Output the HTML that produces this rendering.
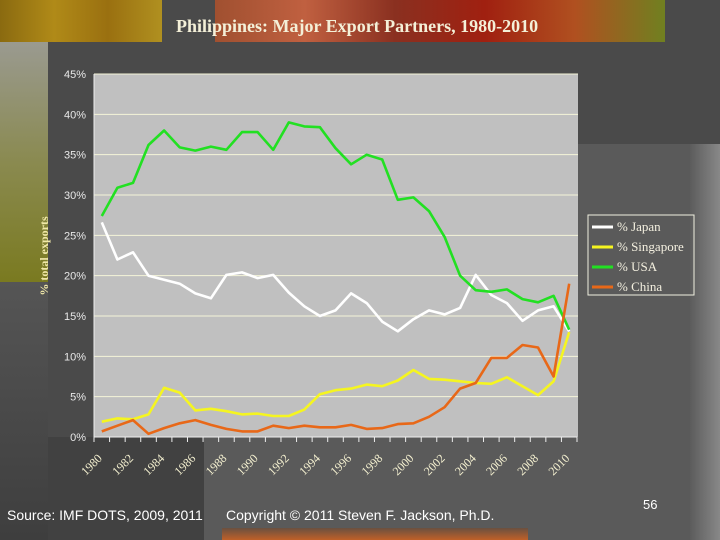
<!DOCTYPE html>
<html><head><meta charset="utf-8"><style>
html,body{margin:0;padding:0}
body{width:720px;height:540px;overflow:hidden;position:relative;background:#5a5a5a;font-family:"Liberation Sans",sans-serif}
.abs{position:absolute}
</style></head><body>
<div class="abs" style="left:0;top:0;width:720px;height:42px;background:#4a4a4a"></div>
<div class="abs" style="left:0;top:0;width:162px;height:42px;background:linear-gradient(90deg,#8a6a10,#b08a18,#9a7010,#b09020)"></div>
<div class="abs" style="left:215px;top:0;width:450px;height:44px;background:linear-gradient(90deg,#a05030,#c06040,#8a3020,#a02010,#b05020,#708020)"></div>
<div class="abs" style="left:0;top:42px;width:48px;height:240px;background:linear-gradient(180deg,#9a9a90,#8a8a50,#7a7a20)"></div>
<div class="abs" style="left:0;top:282px;width:48px;height:258px;background:linear-gradient(180deg,#555,#3e3e3e)"></div>
<div class="abs" style="left:48px;top:42px;width:672px;height:102px;background:#4a4a4a"></div>
<div class="abs" style="left:48px;top:144px;width:530px;height:293px;background:#4a4a4a"></div>
<div class="abs" style="left:48px;top:437px;width:156px;height:103px;background:#414141"></div>
<div class="abs" style="left:690px;top:144px;width:30px;height:396px;background:linear-gradient(90deg,#5c5c5c,#888)"></div>
<div class="abs" style="left:222px;top:528px;width:306px;height:12px;background:linear-gradient(180deg,#6a5040,#c06028)"></div>
<div class="abs" style="left:176px;top:16px;font-family:'Liberation Serif',serif;font-size:18px;font-weight:bold;color:#f4f0d8;white-space:nowrap">Philippines: Major Export Partners, 1980-2010</div>
<div class="abs" style="left:7px;top:507px;font-size:14px;color:#fff;white-space:nowrap">Source: IMF DOTS, 2009, 2011</div>
<div class="abs" style="left:226px;top:507px;font-size:14px;color:#fff;white-space:nowrap">Copyright © 2011 Steven F. Jackson, Ph.D.</div>
<div class="abs" style="left:643px;top:497px;font-size:13px;color:#fff">56</div>

<svg class="abs" style="left:0;top:0" width="720" height="540">
<rect x="94" y="74" width="484" height="363" fill="#c0c0c0"/>
<g id="grid"></g><g id="yt"></g><g id="xt"></g><g id="series"></g>
<text transform="translate(48,256) rotate(-90)" text-anchor="middle" font-family="Liberation Serif,serif" font-weight="bold" font-size="12" fill="#f0e8a8">% total exports</text>
<g>
<rect x="588" y="215" width="106" height="80" fill="none" stroke="#f0f0e0" stroke-width="1"/>
</g><g id="leg"></g>
</svg>
<script>
const years=[];for(let y=1980;y<=2010;y++)years.push(y);
const japan=[26.6,22.0,22.9,20.0,19.5,19.0,17.8,17.2,20.1,20.4,19.7,20.1,17.9,16.2,15.0,15.7,17.8,16.6,14.3,13.1,14.6,15.7,15.2,16.0,20.1,17.6,16.6,14.4,15.7,16.2,13.1];
const singapore=[1.9,2.3,2.2,2.8,6.1,5.5,3.3,3.5,3.2,2.8,2.9,2.6,2.6,3.4,5.3,5.8,6.0,6.5,6.3,7.0,8.3,7.2,7.1,6.9,6.7,6.6,7.4,6.3,5.2,6.9,13.0];
const usa=[27.4,30.9,31.5,36.2,38.0,35.9,35.5,36.0,35.6,37.8,37.8,35.6,39.0,38.5,38.4,35.8,33.8,35.0,34.4,29.4,29.7,28.0,24.8,20.0,18.2,18.0,18.3,17.1,16.7,17.5,13.3];
const china=[0.7,1.4,2.1,0.4,1.1,1.7,2.1,1.5,1.0,0.7,0.7,1.4,1.1,1.4,1.2,1.2,1.5,1.0,1.1,1.6,1.7,2.5,3.7,6.0,6.7,9.8,9.8,11.4,11.1,7.5,19.0];
const yTicks=[0,5,10,15,20,25,30,35,40,45];
const xLabelYears=[1980,1982,1984,1986,1988,1990,1992,1994,1996,1998,2000,2002,2004,2006,2008,2010];
const xLabels=["1980","1982","1984","1986","1988","1990","1992","1994","1996","1998","2000","2002","2004","2006","2008","2010"];
const seriesNames=["% Japan","% Singapore","% USA","% China"];
const seriesColors=["#ffffff","#f5f520","#22e022","#e86818"];
const NS="http://www.w3.org/2000/svg";
const X0=94,X1=577,Y0=437,Ytop=74,YMAX=45;
const bw=(X1-X0)/years.length;
const xs=i=>X0+bw*(i+0.5);
const ys=v=>Y0-(v/YMAX)*(Y0-Ytop);
function mk(t,a,p){const e=document.createElementNS(NS,t);for(const k in a)e.setAttribute(k,a[k]);p.appendChild(e);return e;}
const grid=document.getElementById('grid'),yt=document.getElementById('yt'),xt=document.getElementById('xt');
yTicks.forEach(v=>{
  if(v>0){const l=mk('line',{x1:X0,x2:578,y1:ys(v),y2:ys(v),stroke:'#f4f4d8','stroke-width':1},grid);
  
  }
  const t=mk('text',{x:86,y:ys(v)+4,'text-anchor':'end','font-size':11,fill:'#e8e8e8','font-family':'Liberation Sans,sans-serif'},yt);
  t.textContent=v+'%';
  
  
});
mk('line',{x1:X0,x2:X0,y1:Ytop,y2:Y0,stroke:'#eee','stroke-width':1},yt);
mk('line',{x1:X0,x2:X1,y1:Y0,y2:Y0,stroke:'#eee','stroke-width':1},xt);
for(let i=0;i<=years.length;i++){mk('line',{x1:X0+bw*i,x2:X0+bw*i,y1:Y0,y2:Y0+5,stroke:'#eee'},xt);}
xLabelYears.forEach((yr,k)=>{
  const i=years.indexOf(yr);const x=xs(i)+1,y=Y0+22;
  const t=mk('text',{x:x,y:y,'text-anchor':'end','font-size':12,fill:'#f4f0d0','font-family':'Liberation Serif,serif',transform:`rotate(-45 ${x} ${y})`},xt);
  t.textContent=xLabels[k];
  
  
});
const sg=document.getElementById('series');
[japan,singapore,usa,china].forEach((arr,s)=>{
  const d=arr.map((v,i)=>(i?'L':'M')+xs(i).toFixed(1)+' '+ys(v).toFixed(1)).join(' ');
  const p=mk('path',{d:d,fill:'none',stroke:seriesColors[s],'stroke-width':2.6,'stroke-linejoin':'round'},sg);
  
  
});
const leg=document.getElementById('leg');
seriesNames.forEach((n,s)=>{
  const y=227+s*20;
  mk('line',{x1:592,x2:613,y1:y,y2:y,stroke:seriesColors[s],'stroke-width':3},leg);
  const t=mk('text',{x:617,y:y+4,'font-size':13,fill:'#f4f0e0','font-family':'Liberation Serif,serif'},leg);
  t.textContent=n;
  
  
});
</script>
</body></html>
